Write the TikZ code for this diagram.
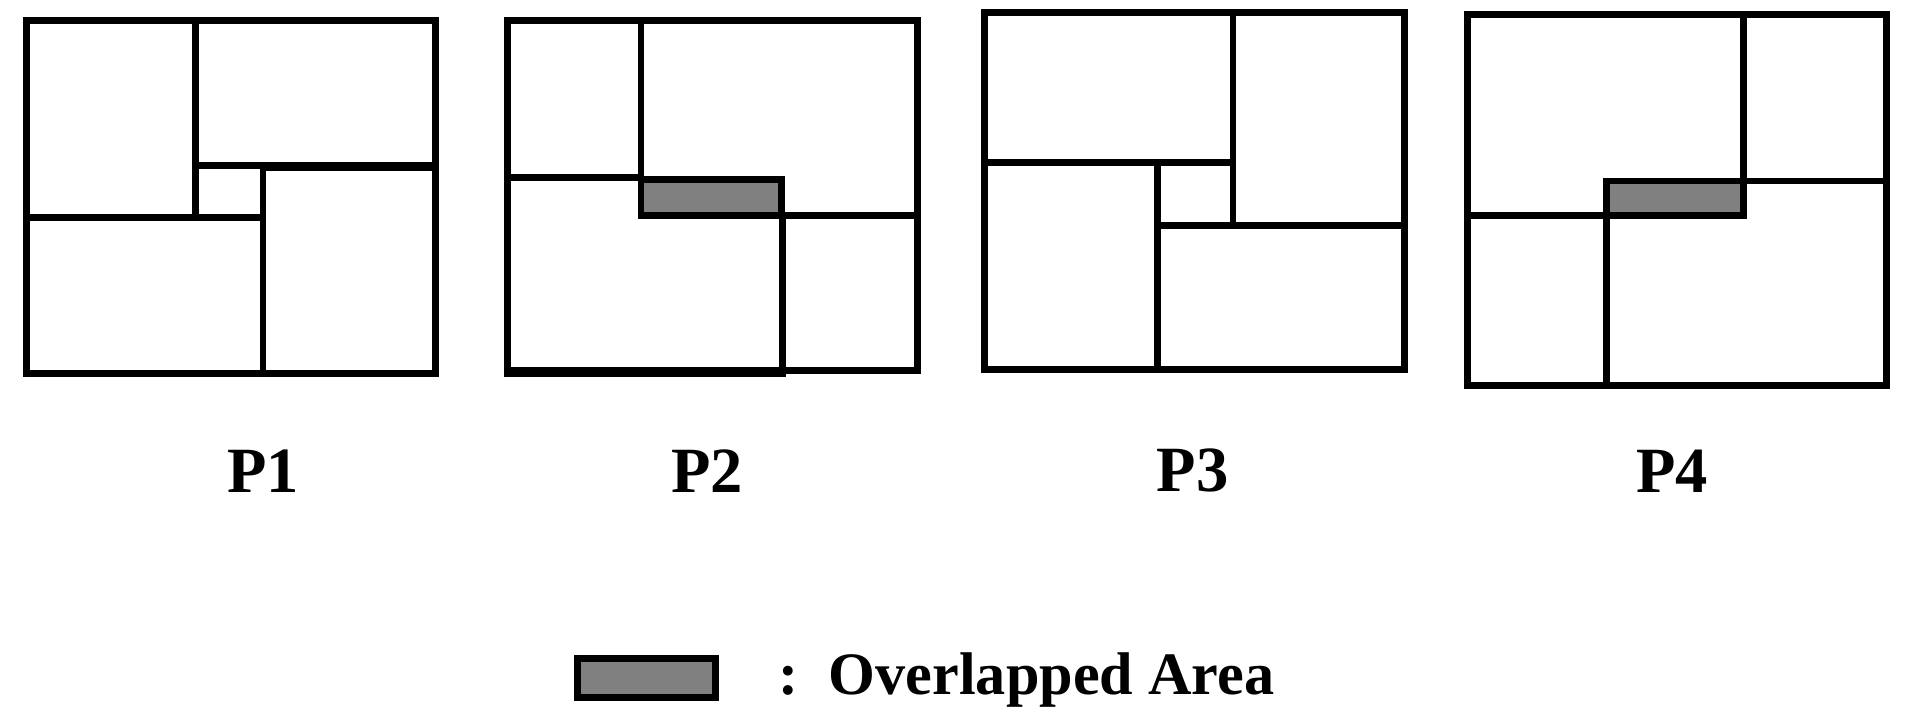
\documentclass[tikz,border=0pt]{standalone}
\usepackage{fontspec}
\setmainfont{Liberation Serif}
\begin{document}
\begin{tikzpicture}[x=0.01cm,y=-0.01cm,line width=1.6pt,
  ln/.style={draw=black,line cap=rect},
  ov/.style={draw=black,fill=black!50},
  lab/.style={font=\fontsize{15}{18}\bfseries\selectfont}]
\useasboundingbox (0,0) rectangle (1568,584);
% P1
\draw[ln] (22,17) rectangle (356,305);
\draw[ln] (160,17) -- (160,178);
\draw[ln] (160,135) -- (356,135);
\draw[ln] (22,178) -- (213,178);
\draw[ln] (215,137) -- (215,305);
\draw[ln] (215,137) -- (352,137);
% P2
\draw[ln] (415,17) rectangle (750,303);
\draw[ln] (524,17) -- (524,176);
\draw[ln] (415,145) -- (524,145);
\draw[ov] (524,147) rectangle (639,176);
\draw[ln] (639,176) -- (750,176);
\draw[ln] (640,176) -- (640,305);
\draw[ln] (415,305) -- (640,305);
% P3
\draw[ln] (805,10) rectangle (1148,302);
\draw[ln] (805,133) -- (1006,133);
\draw[ln] (1008,10) -- (1008,184);
\draw[ln] (946,184) -- (1148,184);
\draw[ln] (946,136) -- (946,302);
% P4
\draw[ln] (1200,12) rectangle (1542,315);
\draw[ln] (1425,12) -- (1425,148);
\draw[ln] (1425,148) -- (1542,148);
\draw[ov] (1313,148) rectangle (1425,176);
\draw[ln] (1200,176) -- (1313,176);
\draw[ln] (1313,148) -- (1313,315);
% labels
\node[lab] (l1) at (215,385) {P1};
\node[lab] (l2) at (578,385) {P2};
\node[lab] (l3) at (975,385) {P3};
\node[lab] (l4) at (1367,385) {P4};
% legend
\draw[ov] (472,538) rectangle (585,570);
\node[anchor=west,font=\fontsize{14}{17}\bfseries\selectfont] (leg) at (622,556) {:\ \ Overlapped Area};
\end{tikzpicture}
\end{document}
